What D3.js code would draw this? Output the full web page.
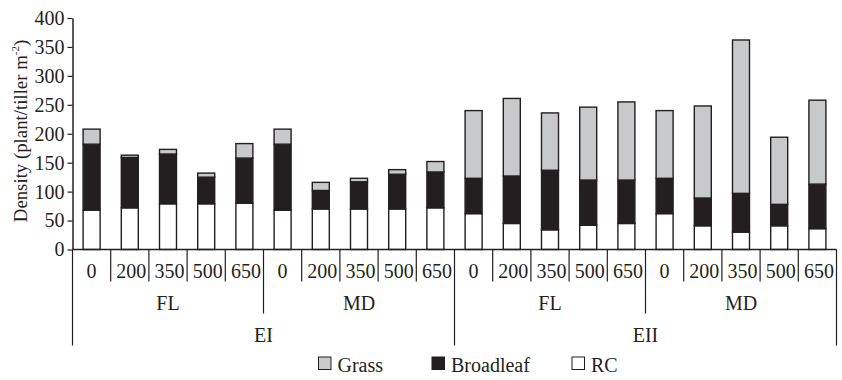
<!DOCTYPE html>
<html>
<head>
<meta charset="utf-8">
<script src="https://cdn.jsdelivr.net/npm/d3@7"></script>
<style>
  html, body { margin: 0; padding: 0; background: #fff; }
  svg text { font-family: "Liberation Serif", "Times New Roman", Times, "DejaVu Serif", serif; fill: #231f20; }
</style>
</head>
<body>
<div id="canvas"></div>
<script>
// data
const doses = ["0", "200", "350", "500", "650"];
const sites = ["FL", "MD"];
const experiments = ["EI", "EII"];

const rc        = [68, 72, 79, 79, 80,  68, 70, 70, 70, 72,  62, 45, 34, 42, 45,  62, 41, 30, 41, 36];
const broadleaf = [114, 87, 86, 46, 78, 114, 32, 47, 60, 62,  61, 82, 103, 78, 75,  61, 48, 67, 37, 77];
const grass     = [26, 4, 8, 7, 25,  26, 14, 6, 8, 18,  117, 134, 99, 126, 135,  117, 159, 265, 116, 145];

const yTicks = [0, 50, 100, 150, 200, 250, 300, 350, 400];
const seriesNames = ["Grass", "Broadleaf", "RC"];

const colors = { Grass: "#c8c9cb", Broadleaf: "#231f20", RC: "#ffffff" };
const ink = "#231f20";
const serif = "'Liberation Serif', 'Times New Roman', Times, 'DejaVu Serif', serif";

const width = 842, height = 380;
const margin = { top: 18, left: 72.5, right: 5.5, bottom: 130.5 };
const iwidth = width - margin.left - margin.right;
const iheight = height - margin.top - margin.bottom;

// build the flat category list
const rows = [];
experiments.forEach(e => sites.forEach(s => doses.forEach(d => rows.push({ exp: e, site: s, dose: d }))));
rows.forEach((r, i) => { r.id = i; r.RC = rc[i]; r.Broadleaf = broadleaf[i]; r.Grass = grass[i]; });

const svg = d3.select("#canvas").append("svg")
  .attr("width", width).attr("height", height)
  .style("font-family", serif);

const g = svg.append("g").attr("transform", `translate(${margin.left},${margin.top})`);

const y = d3.scaleLinear().domain([0, 400]).range([iheight, 0]);

const x = d3.scaleBand()
  .domain(rows.map(d => d.id))
  .range([0, iwidth])
  .paddingInner(0.555)
  .paddingOuter(0.2775);

const step = x.step();

// stacked bars
const stack = d3.stack().keys(["RC", "Broadleaf", "Grass"]);
const layers = stack(rows);

g.selectAll("g.layer").data(layers).enter().append("g")
  .attr("class", "layer")
  .attr("fill", d => colors[d.key])
  .selectAll("rect").data(d => d).enter().append("rect")
  .attr("x", d => x(d.data.id))
  .attr("y", d => y(d[1]))
  .attr("width", x.bandwidth())
  .attr("height", d => y(d[0]) - y(d[1]))
  .attr("stroke", ink)
  .attr("stroke-width", 1.4);

// y axis
const yAxis = g.append("g")
  .call(d3.axisLeft(y).tickValues(yTicks).tickSize(5).tickPadding(3).tickSizeOuter(0))
  .attr("font-family", null).attr("font-size", null);
yAxis.select(".domain").attr("stroke", ink).attr("stroke-width", 1.5);
yAxis.selectAll(".tick line").attr("stroke", ink).attr("stroke-width", 1.2);
yAxis.selectAll(".tick text").style("font-size", "20px").style("font-family", serif).attr("fill", ink);

// x axis baseline
g.append("line")
  .attr("x1", 0).attr("x2", iwidth)
  .attr("y1", iheight).attr("y2", iheight)
  .attr("stroke", ink).attr("stroke-width", 1.5);

// multi-level category axis
const lvl = g.append("g").attr("transform", `translate(0,${iheight})`);
const lineStyle = sel => sel.attr("stroke", ink).attr("stroke-width", 1.2);
const label = (sel) => sel.attr("text-anchor", "middle").style("font-size", "20px").style("font-family", serif);

// dose dividers and labels
rows.forEach((r, i) => {
  const x0 = i * step;
  let len = 32;
  if (i % 5 === 0) len = 64;
  if (i % 10 === 0) len = 96;
  lvl.append("line").attr("x1", x0).attr("x2", x0).attr("y1", 0).attr("y2", len).call(lineStyle);
  lvl.append("text")
    .attr("x", x0 + step / 2 + (r.dose === "0" ? 0 : 1.5))
    .attr("y", 28)
    .call(label)
    .text(r.dose);
});
lvl.append("line").attr("x1", iwidth).attr("x2", iwidth).attr("y1", 0).attr("y2", 96).call(lineStyle);

// site labels
experiments.forEach((e, ei) => sites.forEach((s, si) => {
  const k = ei * 2 + si;
  lvl.append("text")
    .attr("x", (k * 5 + 2.5) * step)
    .attr("y", 60.5)
    .call(label)
    .text(s);
}));

// experiment labels
experiments.forEach((e, ei) => {
  lvl.append("text")
    .attr("x", (ei * 10 + 5) * step)
    .attr("y", 92)
    .call(label)
    .text(e);
});

// y title
const title = svg.append("text")
  .attr("transform", `translate(26.5,131) rotate(-90)`)
  .call(label)
  .style("font-size", "18.8px");
title.append("tspan").text("Density (plant/tiller m");
title.append("tspan").style("font-size", "11px").attr("dy", -8).text("-2");
title.append("tspan").attr("dy", 8).text(")");

// legend
const legendX = [318.5, 432, 572];
const legend = svg.append("g");
seriesNames.forEach((name, i) => {
  const item = legend.append("g").attr("transform", `translate(${legendX[i]},357)`);
  item.append("rect")
    .attr("width", 12.5).attr("height", 12.5)
    .attr("fill", colors[name])
    .attr("stroke", ink).attr("stroke-width", 1);
  item.append("text")
    .attr("x", 19).attr("y", 14.5)
    .style("font-size", "20px").style("font-family", serif)
    .text(name);
});
</script>
</body>
</html>
